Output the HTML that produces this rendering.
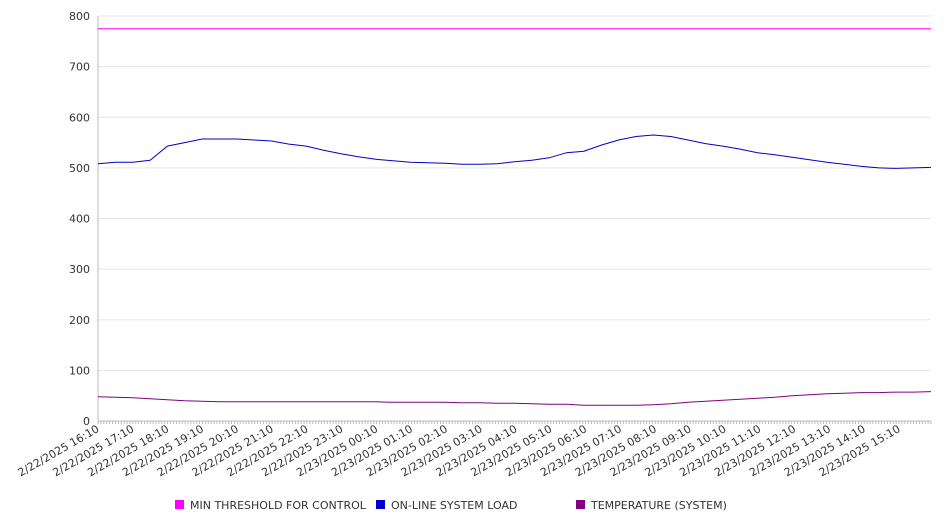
<!DOCTYPE html>
<html><head><meta charset="utf-8"><style>
body{margin:0;background:#fff;}
svg{display:block;font-family:"DejaVu Sans","Liberation Sans",sans-serif;}
</style></head><body>
<svg id="chart" width="946" height="526" xmlns="http://www.w3.org/2000/svg">
<g id="grid"></g>
<g id="yaxis"></g>
<g id="xaxis"></g>
<g id="series"></g>
<g id="legend"></g>
</svg>
<script>
const xLabels=["2/22/2025 16:10","2/22/2025 17:10","2/22/2025 18:10","2/22/2025 19:10","2/22/2025 20:10","2/22/2025 21:10","2/22/2025 22:10","2/22/2025 23:10","2/23/2025 00:10","2/23/2025 01:10","2/23/2025 02:10","2/23/2025 03:10","2/23/2025 04:10","2/23/2025 05:10","2/23/2025 06:10","2/23/2025 07:10","2/23/2025 08:10","2/23/2025 09:10","2/23/2025 10:10","2/23/2025 11:10","2/23/2025 12:10","2/23/2025 13:10","2/23/2025 14:10","2/23/2025 15:10"];
const yTicks=[0,100,200,300,400,500,600,700,800];
// half-hour samples starting 16:10
const loadValues=[508,511,511,515,543,550,557,557,557,555,553,547,543,535,528,522,517,514,511,510,509,507,507,508,512,515,520,530,533,545,555,562,565,562,555,548,543,537,530,526,521,516,511,507,503,500,499,500,501];
const tempValues=[48,47,46,44,42,40,39,38,38,38,38,38,38,38,38,38,38,37,37,37,37,36,36,35,35,34,33,33,31,31,31,31,32,34,37,39,41,43,45,47,50,52,54,55,56,56,57,57,58];
const thresholdValues=[775,775];
const seriesNames=["MIN THRESHOLD FOR CONTROL","ON-LINE SYSTEM LOAD","TEMPERATURE (SYSTEM)"];
const seriesColors=["#ff00ff","#0000cc","#800080"];

const NS="http://www.w3.org/2000/svg";
const X0=98,X1=931,Y0=421,Y1=16,YMAX=800,STEPS_PER_HOUR=12,TOTAL_STEPS=287;
const yS=v=>Y0-(v/YMAX)*(Y0-Y1);
const xStep=s=>X0+s*(X1-X0)/TOTAL_STEPS;
function mk(tag,attrs,parent){const e=document.createElementNS(NS,tag);for(const k in attrs)e.setAttribute(k,attrs[k]);parent.appendChild(e);return e;}
const grid=document.getElementById('grid'),ya=document.getElementById('yaxis'),xa=document.getElementById('xaxis'),ser=document.getElementById('series'),leg=document.getElementById('legend');
yTicks.forEach(t=>{
  const l=mk('line',{x1:X0,x2:X1,y1:yS(t),y2:yS(t),stroke:t===0?'#bbb':'#e6e6e6','stroke-width':1},grid);
  
  
  const tx=mk('text',{x:90,y:yS(t)+4,'text-anchor':'end','font-size':11,fill:'#333'},ya);
  tx.textContent=t;
  
  
});
mk('line',{x1:X0,x2:X0,y1:Y1,y2:Y0,stroke:'#bbb'},ya);
for(let s=0;s<=TOTAL_STEPS;s++){mk('line',{x1:xStep(s),x2:xStep(s),y1:Y0,y2:Y0+3,stroke:'#bbb'},xa);}
xLabels.forEach((lb,i)=>{
  const x=xStep(i*STEPS_PER_HOUR);
  const t=mk('text',{x:0,y:0,'text-anchor':'end','font-size':11,fill:'#333',transform:`translate(${x+2},${Y0+10}) rotate(-30)`},xa);
  t.textContent=lb;
  
  
});
function drawLine(vals,color,name){
  const n=vals.length;
  const pts=vals.map((v,i)=>xStep(i*TOTAL_STEPS/(n-1)).toFixed(1)+','+yS(v).toFixed(1)).join(' ');
  const p=mk('polyline',{points:pts,fill:'none',stroke:color,'stroke-width':1},ser);
  
  
}
drawLine(thresholdValues,seriesColors[0],'threshold-line');
drawLine(loadValues,seriesColors[1],'system-load-line');
drawLine(tempValues,seriesColors[2],'temperature-line');
const legX=[175,376,576];
seriesNames.forEach((n,i)=>{
  const g=mk('g',{},leg);
  
  
  mk('rect',{x:legX[i],y:500,width:9,height:9,fill:seriesColors[i]},g);
  const t=mk('text',{x:legX[i]+15,y:509,'font-size':11,fill:'#333'},g);
  t.textContent=n;
});
</script>
</body></html>
